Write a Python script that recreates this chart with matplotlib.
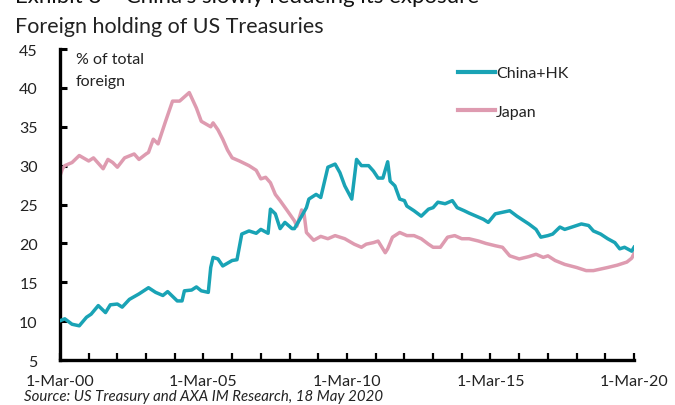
import matplotlib
matplotlib.use("Agg")
import matplotlib.pyplot as plt
import matplotlib.dates as mdates
import pandas as pd

plt.rcParams["font.family"] = ["Lato", "DejaVu Sans"]

# Share of total foreign holdings of US Treasuries (%)
china_dates = [
    "2000-03", "2000-05", "2000-08", "2000-11", "2001-02", "2001-04", "2001-07",
    "2001-10", "2001-12", "2002-03", "2002-05", "2002-08", "2002-12", "2003-04",
    "2003-07", "2003-10", "2003-12", "2004-04", "2004-06", "2004-07", "2004-10",
    "2004-12", "2005-02", "2005-05", "2005-06", "2005-07", "2005-09", "2005-11",
    "2006-03", "2006-05", "2006-07", "2006-10", "2007-01", "2007-03", "2007-06",
    "2007-07", "2007-09", "2007-11", "2008-01", "2008-04", "2008-05", "2008-08",
    "2008-10", "2008-11", "2009-02", "2009-04", "2009-07", "2009-10", "2009-12",
    "2010-02", "2010-05", "2010-07", "2010-09", "2010-12", "2011-02", "2011-04",
    "2011-06", "2011-08", "2011-09", "2011-11", "2012-01", "2012-03", "2012-04",
    "2012-07", "2012-10", "2013-01", "2013-03", "2013-05", "2013-08", "2013-11",
    "2014-01", "2014-04", "2014-06", "2014-09", "2014-12", "2015-02", "2015-05",
    "2015-08", "2015-11", "2016-02", "2016-04", "2016-07", "2016-10", "2016-12",
    "2017-03", "2017-05", "2017-08", "2017-10", "2018-01", "2018-05", "2018-08",
    "2018-10", "2019-01", "2019-04", "2019-07", "2019-09", "2019-11", "2020-02",
    "2020-03",
]
china_hk = [
    10.05, 10.3, 9.6, 9.4, 10.5, 10.9, 12.0,
    11.1, 12.1, 12.2, 11.8, 12.8, 13.5, 14.3,
    13.7, 13.3, 13.8, 12.6, 12.6, 13.9, 14.0,
    14.4, 13.9, 13.7, 16.9, 18.2, 18.0, 17.1,
    17.8, 17.9, 21.2, 21.6, 21.3, 21.8, 21.3,
    24.4, 23.8, 21.9, 22.7, 21.9, 21.9, 23.5,
    24.6, 25.7, 26.3, 25.9, 29.8, 30.2, 29.1,
    27.4, 25.7, 30.8, 30.0, 30.0, 29.3, 28.4,
    28.4, 30.5, 28.0, 27.4, 25.7, 25.5, 24.8,
    24.2, 23.5, 24.4, 24.6, 25.3, 25.1, 25.5,
    24.6, 24.2, 23.9, 23.5, 23.1, 22.7, 23.8,
    24.0, 24.2, 23.5, 23.1, 22.5, 21.8, 20.8,
    21.0, 21.2, 22.1, 21.8, 22.1, 22.5, 22.3,
    21.6, 21.2, 20.6, 20.1, 19.3, 19.5, 19.0,
    19.5,
]

japan_dates = [
    "2000-03", "2000-04", "2000-05", "2000-08", "2000-11", "2001-03", "2001-05",
    "2001-09", "2001-11", "2002-01", "2002-03", "2002-06", "2002-10", "2002-12",
    "2003-03", "2003-04", "2003-06", "2003-08", "2003-11", "2004-02", "2004-05",
    "2004-09", "2004-12", "2005-02", "2005-06", "2005-07", "2005-09", "2005-11",
    "2006-01", "2006-03", "2006-06", "2006-10", "2007-01", "2007-03", "2007-05",
    "2007-07", "2007-09", "2007-11", "2008-02", "2008-05", "2008-06", "2008-08",
    "2008-09", "2008-10", "2009-01", "2009-04", "2009-07", "2009-10", "2009-12",
    "2010-02", "2010-06", "2010-09", "2010-11", "2011-02", "2011-04", "2011-07",
    "2011-08", "2011-10", "2012-01", "2012-04", "2012-07", "2012-10", "2013-01",
    "2013-03", "2013-06", "2013-09", "2013-12", "2014-03", "2014-06", "2014-10",
    "2015-01", "2015-05", "2015-08", "2015-11", "2016-03", "2016-07", "2016-10",
    "2017-01", "2017-03", "2017-06", "2017-10", "2018-03", "2018-07", "2018-10",
    "2019-01", "2019-04", "2019-08", "2019-12", "2020-02", "2020-03",
]
japan = [
    28.7, 29.6, 30.0, 30.4, 31.3, 30.6, 31.0,
    29.6, 30.8, 30.4, 29.8, 31.0, 31.5, 30.8,
    31.5, 31.7, 33.4, 32.8, 35.6, 38.3, 38.3,
    39.4, 37.4, 35.7, 35.0, 35.5, 34.6, 33.4,
    32.0, 31.0, 30.6, 30.0, 29.4, 28.3, 28.5,
    27.8, 26.3, 25.5, 24.2, 22.9, 22.2, 24.3,
    23.8, 21.4, 20.4, 20.9, 20.6, 21.0, 20.8,
    20.6, 19.9, 19.5, 19.9, 20.1, 20.3, 18.8,
    19.3, 20.8, 21.4, 21.0, 21.0, 20.6, 19.9,
    19.5, 19.5, 20.8, 21.0, 20.6, 20.6, 20.3,
    20.0, 19.7, 19.5, 18.4, 18.0, 18.3, 18.6,
    18.2, 18.4, 17.8, 17.3, 16.9, 16.5, 16.5,
    16.7, 16.9, 17.2, 17.6, 18.1, 18.7,
]

y_ticks = [5, 10, 15, 20, 25, 30, 35, 40, 45]
series_labels = ["China+HK", "Japan"]
teal = "#19a3b5"
pink = "#de9bb0"

fig = plt.figure(figsize=(6.75, 4.06), dpi=100)
ax = fig.add_axes([0.0889, 0.1108, 0.8504, 0.766])

cx = pd.to_datetime(china_dates).map(lambda d: d.replace(day=1))
jx = pd.to_datetime(japan_dates).map(lambda d: d.replace(day=1))
ax.plot(jx, japan, color=pink, lw=2.5, label=series_labels[1],
        solid_joinstyle="round", zorder=2)
ax.plot(cx, china_hk, color=teal, lw=2.5, label=series_labels[0],
        solid_joinstyle="round", zorder=3)

ax.set_xlim(pd.Timestamp("2000-03-01"), pd.Timestamp("2020-03-01"))
ax.set_ylim(5, 45)
ax.set_yticks(y_ticks)

ax.xaxis.set_major_locator(mdates.YearLocator(5, month=3, day=1))
ax.xaxis.set_minor_locator(mdates.YearLocator(1, month=3, day=1))
ax.xaxis.set_major_formatter(
    matplotlib.ticker.FuncFormatter(
        lambda v, p: "1-Mar-" + mdates.num2date(v).strftime("%y")))

for side in ("top", "right"):
    ax.spines[side].set_visible(False)
for side in ("left", "bottom"):
    ax.spines[side].set_linewidth(2.4)
    ax.spines[side].set_color("black")

ax.tick_params(axis="y", direction="in", length=5, width=2.2,
               labelsize=11.5, pad=16, colors="black", labelcolor="#222222")
ax.tick_params(axis="x", which="both", direction="in", length=5, width=1.6,
               labelsize=11.5, pad=10, colors="black", labelcolor="#222222")

ax.text(0.027, 0.992, "% of total\nforeign", transform=ax.transAxes,
        fontsize=11.5, va="top", ha="left", color="#222222", linespacing=1.8)

leg = ax.legend(handles=ax.lines[::-1], loc="upper left",
                bbox_to_anchor=(0.683, 0.965), frameon=False,
                fontsize=11.5, handlelength=2.3, handletextpad=0.05,
                labelspacing=1.5, borderaxespad=0)
for t in leg.get_texts():
    t.set_color("#222222")
for h in leg.legend_handles:
    h.set_linewidth(3)

fig.text(0.022, 0.993, "Exhibit 8 \u2013 China's slowly reducing its exposure",
         fontsize=16, va="baseline", ha="left", color="#111111")
fig.text(0.022, 0.919, "Foreign holding of US Treasuries",
         fontsize=15.5, va="baseline", ha="left", color="#222222")
fig.text(0.036, 0.012, "Source: US Treasury and AXA IM Research, 18 May 2020",
         fontsize=10.8, style="italic", va="baseline", ha="left",
         color="#222222")

fig.savefig("out.png", dpi=100, facecolor="white")
